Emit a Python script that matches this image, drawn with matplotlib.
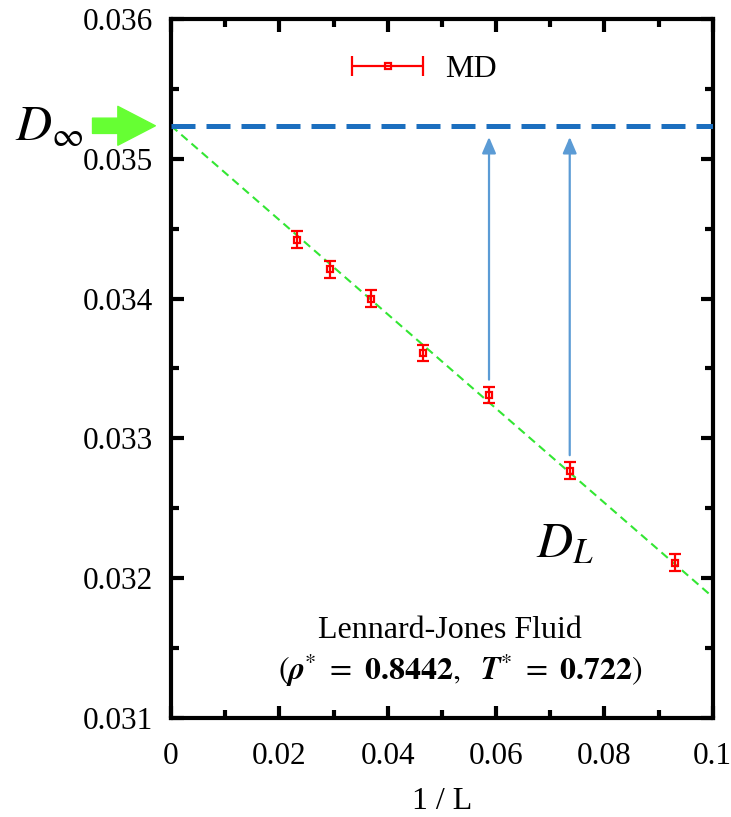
import numpy as np
import matplotlib
matplotlib.use("Agg")
import matplotlib.pyplot as plt
from matplotlib.container import ErrorbarContainer
from matplotlib.legend_handler import HandlerErrorbar

plt.rcParams['font.family'] = ['Liberation Serif', 'DejaVu Serif']
plt.rcParams['mathtext.fontset'] = 'stix'

# MD diffusion coefficients vs inverse box length
inv_L = [0.02325, 0.02934, 0.0369, 0.0465, 0.0587, 0.0736, 0.0930]
D_md = [0.03442, 0.03421, 0.03400, 0.03361, 0.03331, 0.03277, 0.03211]
D_err = [0.00006, 0.00006, 0.00006, 0.00006, 0.00006, 0.00006, 0.00006]

# Linear extrapolation to infinite system size
D_inf = 0.035235
slope = -0.03369

x_ticks = [0, 0.02, 0.04, 0.06, 0.08, 0.1]
x_ticklabels = ["0", "0.02", "0.04", "0.06", "0.08", "0.1"]
y_ticks = [0.031, 0.032, 0.033, 0.034, 0.035, 0.036]
y_ticklabels = ["0.031", "0.032", "0.033", "0.034", "0.035", "0.036"]

fig = plt.figure(figsize=(7.31, 8.17), dpi=100)
ax = fig.add_axes([0.234, 0.121, 0.741, 0.856])

ax.set_xlim(0, 0.1)
ax.set_ylim(0.031, 0.036)

# fit line
xf = np.array([0.0, 0.1])
ax.plot(xf, D_inf + slope * xf, color='#33e633', lw=1.5, dashes=(4, 2.5), zorder=2)

# D_inf level
ax.axhline(D_inf, color='#1c6fbf', lw=3.6, dashes=(4.8, 2.2), zorder=3)

# data
ax.errorbar(inv_L, D_md, yerr=D_err, fmt='s', color='red', mfc='none',
            mec='red', ms=5, mew=1.6, elinewidth=1.6, capsize=4.5,
            capthick=1.6, zorder=5)

# legend proxy with horizontal error bar
proxy = ax.errorbar([np.nan], [np.nan], xerr=[0.0], fmt='s', color='red',
                    mfc='none', mec='red', ms=5, mew=1.6, elinewidth=1.6,
                    capsize=7, capthick=1.6, label='MD')
ax.legend(handles=[proxy], loc='upper center', bbox_to_anchor=(0.465, 0.99),
          frameon=False, fontsize=23, handlelength=2.4, handletextpad=0.6,
          handler_map={ErrorbarContainer: HandlerErrorbar(xerr_size=1.1)})

# finite-size arrows from D_L up to D_inf
for i in (4, 5):
    ax.annotate('', xy=(inv_L[i], D_inf - 0.00008),
                xytext=(inv_L[i], D_md[i] + 0.00011),
                arrowprops=dict(arrowstyle='-|>,head_length=0.7,head_width=0.3',
                                color='#5b9bd5', lw=1.6, shrinkA=0, shrinkB=0,
                                mutation_scale=14))

# green arrow pointing at D_inf from outside the axes
ax.annotate('', xy=(-0.029, D_inf), xycoords=('axes fraction', 'data'),
            xytext=(-0.145, D_inf), textcoords=('axes fraction', 'data'),
            arrowprops=dict(arrowstyle='simple,head_length=1.35,head_width=1.4,tail_width=0.55',
                            color='#66ff33', shrinkA=0, shrinkB=0,
                            mutation_scale=20),
            annotation_clip=False)

fig.text(0.068, 0.843, r'$D_{\infty}$', fontsize=36, ha='center', va='center')
ax.text(0.727, 0.247, r'$D_{L}$', fontsize=36, ha='center', va='center',
        transform=ax.transAxes)

ax.text(0.515, 0.125, 'Lennard-Jones Fluid', fontsize=23, ha='center',
        va='center', transform=ax.transAxes)
ax.text(0.533, 0.068,
        r'$(\mathbfit{\rho}^{*}\ =\ \mathbf{0.8442},\ \ \mathbfit{T}^{*}\ =\ \mathbf{0.722})$',
        fontsize=23, ha='center', va='center', transform=ax.transAxes)

# axes styling
ax.set_xticks(x_ticks)
ax.set_xticklabels(x_ticklabels)
ax.set_yticks(y_ticks)
ax.set_yticklabels(y_ticklabels)
ax.set_xticks(np.arange(0.01, 0.1, 0.02), minor=True)
ax.set_yticks(np.arange(0.0315, 0.036, 0.001), minor=True)
ax.tick_params(which='both', direction='in', top=True, right=True,
               width=3, labelsize=22.5)
ax.tick_params(which='major', length=9)
ax.tick_params(which='minor', length=5.5)
ax.tick_params(axis='x', pad=17)
ax.tick_params(axis='y', pad=13)
for s in ax.spines.values():
    s.set_linewidth(3)
ax.set_xlabel('1 / L', fontsize=23, labelpad=12)

fig.savefig('out.png', dpi=100)
